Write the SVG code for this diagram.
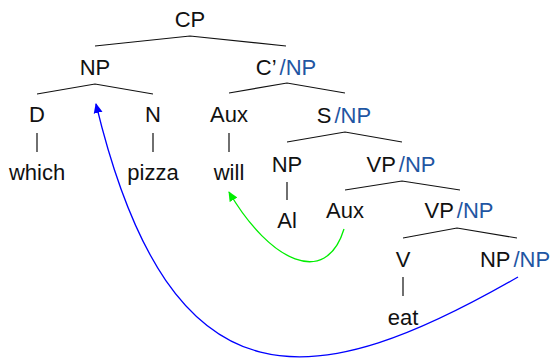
<svg xmlns="http://www.w3.org/2000/svg" width="558" height="358" viewBox="0 0 558 358">
<defs>
<style>
text{font-family:"Liberation Sans",Arial,sans-serif;font-size:22px;fill:#111;text-anchor:middle}
.g{fill:#1f56a3}
.e{stroke:#111;stroke-width:1.2;fill:none}
.mv{fill:none;stroke-width:1.3}
</style>
<marker id="ab" markerWidth="10" markerHeight="10" refX="9" refY="5" orient="auto" markerUnits="userSpaceOnUse"><path d="M0,0.5 L10,5 L0,9.5 Z" fill="#0000ff"/></marker>
<marker id="ag" markerWidth="10" markerHeight="10" refX="9" refY="5" orient="auto" markerUnits="userSpaceOnUse"><path d="M0,0.5 L10,5 L0,9.5 Z" fill="#00ee00"/></marker>
</defs>
<g id="edges">
<path class="e" d="M95,46 L190,36 L286,46"/>
<path class="e" d="M37,94 L95,84 L153,94"/>
<path class="e" d="M229,93 L287,83 L345,93"/>
<path class="e" d="M287,142 L345,132 L402,142"/>
<path class="e" d="M345,190 L402,181 L460,190"/>
<path class="e" d="M403,238 L457,228 L517,238"/>
<path class="e" d="M37,133 V152 M153,133 V152 M229,133 V152 M287,182 V200 M403,277 V296"/>
<path class="mv" stroke="#00ee00" d="M344,229 C326,288 270,262 229,192" marker-end="url(#ag)"/>
<path class="mv" stroke="#0000ff" d="M518,277 C318,392 172,420 96,104" marker-end="url(#ab)"/>
</g>
<g id="cp"><text x="190" y="27">CP</text></g>
<g id="np1"><text x="95" y="75">NP</text></g>
<g id="cbar"><text x="286" y="75">C’<tspan class="g" dx="3">/NP</tspan></text></g>
<g id="d"><text x="37" y="122">D</text></g>
<g id="n"><text x="153" y="122">N</text></g>
<g id="aux1"><text x="229" y="122">Aux</text></g>
<g id="s"><text x="344" y="123">S<tspan class="g" dx="3">/NP</tspan></text></g>
<g id="which"><text x="37" y="180">which</text></g>
<g id="pizza"><text x="153" y="180">pizza</text></g>
<g id="will"><text x="229" y="180">will</text></g>
<g id="np2"><text x="287" y="172">NP</text></g>
<g id="vp1"><text x="401" y="172">VP<tspan class="g" dx="3">/NP</tspan></text></g>
<g id="al"><text x="287" y="228">Al</text></g>
<g id="aux2"><text x="345" y="218">Aux</text></g>
<g id="vp2"><text x="459" y="218">VP<tspan class="g" dx="3">/NP</tspan></text></g>
<g id="v"><text x="403" y="267">V</text></g>
<g id="np3"><text x="515" y="267">NP<tspan class="g" dx="3">/NP</tspan></text></g>
<g id="eat"><text x="403" y="325">eat</text></g>
</svg>
